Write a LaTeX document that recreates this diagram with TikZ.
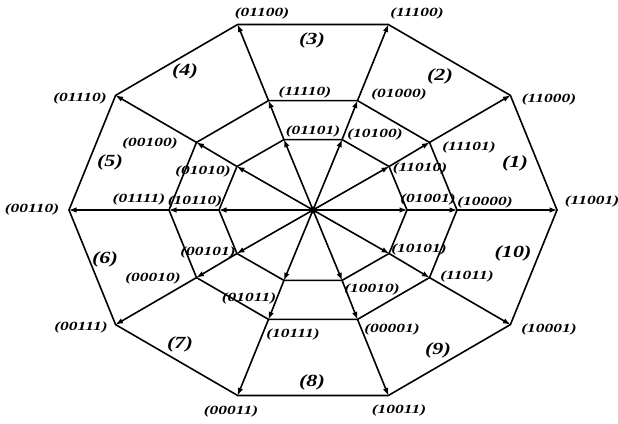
\documentclass[tikz,border=0pt]{standalone}
\usepackage{fontspec}
\setmainfont{Liberation Serif}
\usetikzlibrary{arrows.meta}
\newcommand{\wide}[2][1.4]{\scalebox{#1}[1]{#2}}

\begin{document}
\begin{tikzpicture}[x=1pt, y=-1pt,
            ring/.style={line width=1.6pt},
            arr/.style={-{Latex[length=8pt, width=5.5pt]}, line width=1.6pt, shorten >=-0.5pt},
            vlab/.style={inner sep=0pt, font=\fontsize{12.5}{13}\selectfont\bfseries\itshape},
            rlab/.style={inner sep=0pt, font=\fontsize{17}{18}\selectfont\bfseries\itshape}
        ]
            \useasboundingbox (0,0) rectangle (618,423);
            \coordinate (O) at (313,210);
            % inner, middle and outer decagon corners
            \foreach \i in {0,...,9} {
                \coordinate (a\i) at ({313+94*cos(36*\i)}, {210-74*sin(36*\i)});
                \coordinate (b\i) at ({313+144*cos(36*\i)}, {210-115*sin(36*\i)});
                \coordinate (c\i) at ({313+244*cos(36*\i)}, {210-195*sin(36*\i)});
            }

            \draw[ring] (a0) -- (a1) -- (a2) -- (a3) -- (a4) -- (a5) -- (a6) -- (a7) -- (a8) -- (a9) -- cycle;
            \draw[ring] (b0) -- (b1) -- (b2) -- (b3) -- (b4) -- (b5) -- (b6) -- (b7) -- (b8) -- (b9) -- cycle;
            \draw[ring] (c0) -- (c1) -- (c2) -- (c3) -- (c4) -- (c5) -- (c6) -- (c7) -- (c8) -- (c9) -- cycle;

            \foreach \i in {0,...,9} {
                \draw[arr] (O) -- (a\i);
                \draw[arr] (a\i) -- (b\i);
                \draw[arr] (b\i) -- (c\i);
            }
            \fill (O) circle (3.5pt);

            % outer labels
            \node[vlab] (l11001) at (592,201) {\wide{(11001)}};
            \node[vlab] (l11000) at (549,99) {\wide{(11000)}};
            \node[vlab] (l11100) at (417,13) {\wide{(11100)}};
            \node[vlab] (l01100) at (262,13) {\wide{(01100)}};
            \node[vlab] (l01110) at (80,98) {\wide{(01110)}};
            \node[vlab] (l00110) at (32,209) {\wide{(00110)}};
            \node[vlab] (l00111) at (81,327) {\wide{(00111)}};
            \node[vlab] (l00011) at (231,411) {\wide{(00011)}};
            \node[vlab] (l10011) at (399,410) {\wide{(10011)}};
            \node[vlab] (l10001) at (549,329) {\wide{(10001)}};

            % middle labels
            \node[vlab] (l10000) at (485,202) {\wide{(10000)}};
            \node[vlab] (l11101) at (469,147) {\wide{(11101)}};
            \node[vlab] (l01000) at (399,94) {\wide{(01000)}};
            \node[vlab] (l11110) at (305,92) {\wide{(11110)}};
            \node[vlab] (l00100) at (150,143) {\wide{(00100)}};
            \node[vlab] (l01111) at (139,199) {\wide{(01111)}};
            \node[vlab] (l00010) at (153,278) {\wide{(00010)}};
            \node[vlab] (l10111) at (293,334) {\wide{(10111)}};
            \node[vlab] (l00001) at (392,329) {\wide{(00001)}};
            \node[vlab] (l11011) at (467,276) {\wide{(11011)}};

            % inner labels
            \node[vlab] (l01001) at (428,199) {\wide{(01001)}};
            \node[vlab] (l11010) at (420,168) {\wide{(11010)}};
            \node[vlab] (l10100) at (375,134) {\wide{(10100)}};
            \node[vlab] (l01101) at (313,131) {\wide{(01101)}};
            \node[vlab] (l01010) at (203,171) {\wide{(01010)}};
            \node[vlab] (l10110) at (195,201) {\wide{(10110)}};
            \node[vlab] (l00101) at (208,252) {\wide{(00101)}};
            \node[vlab] (l01011) at (249,298) {\wide{(01011)}};
            \node[vlab] (l10010) at (372,289) {\wide{(10010)}};
            \node[vlab] (l10101) at (419,249) {\wide{(10101)}};

            % sectors
            \node[rlab] (s1) at (515,163) {\wide[1.3]{(1)}};
            \node[rlab] (s2) at (440,76) {\wide[1.3]{(2)}};
            \node[rlab] (s3) at (312,40) {\wide[1.3]{(3)}};
            \node[rlab] (s4) at (185,71) {\wide[1.3]{(4)}};
            \node[rlab] (s5) at (110,162) {\wide[1.3]{(5)}};
            \node[rlab] (s6) at (105,259) {\wide[1.3]{(6)}};
            \node[rlab] (s7) at (180,344) {\wide[1.3]{(7)}};
            \node[rlab] (s8) at (312,382) {\wide[1.3]{(8)}};
            \node[rlab] (s9) at (438,350) {\wide[1.3]{(9)}};
            \node[rlab] (s10) at (513,253) {\wide[1.3]{(10)}};
        \end{tikzpicture}
\end{document}
